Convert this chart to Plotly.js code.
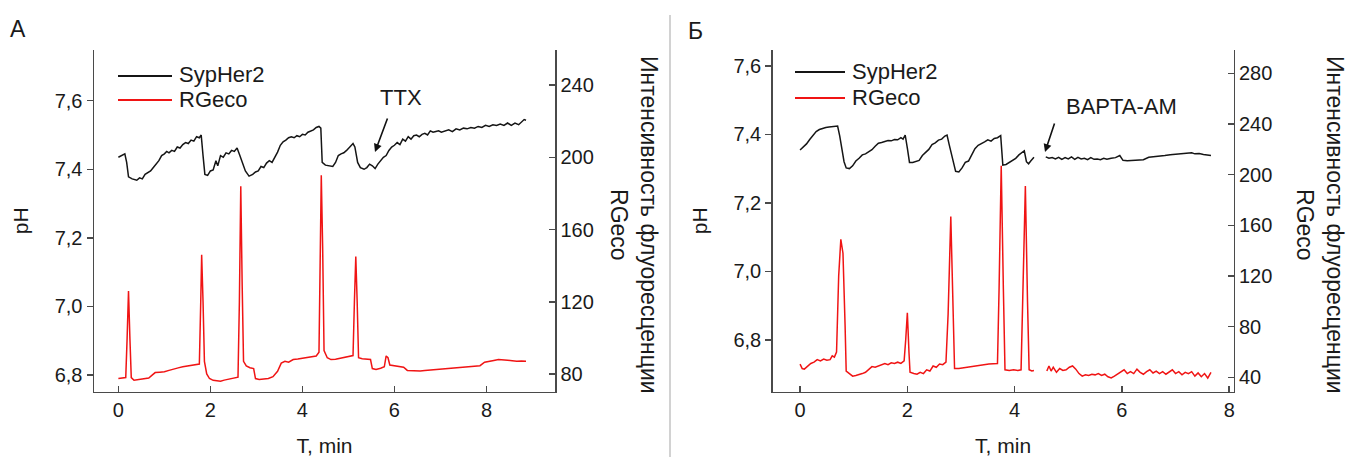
<!DOCTYPE html>
<html>
<head>
<meta charset="utf-8">
<script src="https://cdn.plot.ly/plotly-3.0.1.min.js"></script>
<style>html,body{margin:0;padding:0;background:#fff;}#chart{width:1348px;height:457px;}</style>
</head>
<body>
<div id="chart"></div>
<script>
// ---------- Panel A data ----------
const leftSypTime = [0.00,0.07,0.14,0.18,0.22,0.30,0.40,0.46,0.52,0.58,0.64,0.70,0.76,0.82,0.88,0.94,1.00,1.05,1.10,1.16,1.22,1.28,1.34,1.40,1.46,1.52,1.58,1.64,1.70,1.76,1.80,1.84,1.88,1.94,2.00,2.06,2.12,2.16,2.22,2.28,2.34,2.40,2.46,2.52,2.58,2.64,2.70,2.76,2.84,2.92,2.98,3.04,3.10,3.16,3.22,3.28,3.34,3.40,3.46,3.52,3.58,3.64,3.70,3.76,3.82,3.88,3.94,4.00,4.06,4.12,4.18,4.24,4.30,4.36,4.40,4.43,4.50,4.58,4.66,4.72,4.78,4.84,4.90,4.96,5.04,5.10,5.14,5.20,5.26,5.34,5.40,5.46,5.52,5.58,5.64,5.70,5.76,5.82,5.88,5.94,6.00,6.06,6.12,6.18,6.24,6.30,6.36,6.42,6.48,6.54,6.60,6.66,6.72,6.78,6.84,6.90,6.96,7.02,7.10,7.18,7.26,7.34,7.42,7.50,7.58,7.66,7.74,7.82,7.90,7.98,8.06,8.14,8.22,8.30,8.38,8.46,8.54,8.62,8.70,8.76,8.82,8.86];
const leftSypPH = [7.435,7.440,7.445,7.420,7.378,7.372,7.368,7.375,7.372,7.385,7.390,7.395,7.405,7.415,7.425,7.440,7.445,7.452,7.448,7.455,7.452,7.465,7.462,7.472,7.478,7.475,7.485,7.482,7.495,7.492,7.500,7.440,7.385,7.382,7.395,7.398,7.425,7.410,7.440,7.435,7.448,7.445,7.455,7.452,7.462,7.440,7.415,7.395,7.380,7.385,7.392,7.395,7.408,7.405,7.418,7.425,7.420,7.435,7.450,7.470,7.480,7.485,7.492,7.495,7.492,7.498,7.495,7.502,7.500,7.508,7.512,7.515,7.522,7.525,7.520,7.420,7.412,7.410,7.408,7.420,7.440,7.445,7.448,7.455,7.465,7.475,7.465,7.420,7.405,7.400,7.405,7.415,7.410,7.402,7.415,7.425,7.435,7.440,7.455,7.465,7.470,7.478,7.472,7.488,7.482,7.495,7.488,7.498,7.500,7.495,7.502,7.505,7.500,7.512,7.508,7.510,7.512,7.508,7.512,7.515,7.510,7.518,7.515,7.520,7.518,7.522,7.520,7.525,7.522,7.528,7.525,7.530,7.528,7.532,7.528,7.535,7.528,7.535,7.530,7.538,7.545,7.543];

const leftRgTime = [0.00,0.10,0.16,0.19,0.22,0.25,0.28,0.34,0.42,0.50,0.58,0.66,0.74,0.80,0.90,1.00,1.10,1.20,1.30,1.40,1.50,1.60,1.70,1.76,1.79,1.81,1.84,1.87,1.92,1.98,2.06,2.14,2.22,2.30,2.40,2.50,2.60,2.63,2.66,2.69,2.72,2.78,2.86,2.94,2.98,3.06,3.16,3.26,3.36,3.46,3.54,3.62,3.70,3.80,3.90,4.00,4.10,4.20,4.30,4.36,4.39,4.41,4.44,4.47,4.54,4.62,4.72,4.82,4.92,5.02,5.10,5.13,5.16,5.19,5.22,5.30,5.40,5.48,5.52,5.60,5.70,5.78,5.82,5.86,5.90,6.00,6.10,6.20,6.28,6.36,6.46,6.56,6.66,6.76,6.86,6.96,7.06,7.16,7.26,7.36,7.46,7.56,7.66,7.76,7.86,7.96,8.06,8.16,8.26,8.36,8.46,8.56,8.66,8.76,8.86];
const leftRg = [77.5,77.6,78,100,126,100,78,76.5,76.8,77,77.2,77.8,79.5,80.8,81,81.2,82,82.5,83.4,84,84.5,85,85.2,85.5,120,146,120,87,80,77.5,76.5,76.2,76,76.6,77.2,78,78.2,120,184,130,87,84.5,83.5,83,77.5,77,77.3,77.5,78.5,81.5,86,87,86.5,88,88.3,88.8,89,89.5,90,92,150,190,150,93,89,88,88.2,88.8,89.2,89.8,90.2,120,145,120,89,88.5,88.2,88,83,82.5,83.2,84,90,89,85,84.5,84,83.8,82,81.8,81.9,81.7,82,82.2,82.5,82.8,83,83.2,83.5,83.6,83.8,84,84.3,84.5,84.6,86.5,87.2,87.5,88,88,87.6,87.3,87,87.2,87];

// ---------- Panel Б data ----------
const rightSypTime = [0.00,0.06,0.12,0.18,0.24,0.30,0.36,0.42,0.48,0.54,0.60,0.66,0.70,0.74,0.78,0.82,0.86,0.92,0.98,1.04,1.10,1.16,1.22,1.28,1.34,1.40,1.46,1.52,1.58,1.64,1.70,1.76,1.82,1.88,1.92,1.96,2.00,2.04,2.10,2.16,2.22,2.28,2.34,2.40,2.46,2.52,2.58,2.64,2.70,2.74,2.78,2.84,2.90,2.96,3.02,3.08,3.14,3.20,3.26,3.32,3.38,3.44,3.50,3.56,3.62,3.68,3.74,3.78,3.84,3.90,3.96,4.02,4.08,4.14,4.18,4.22,4.26,4.30,4.36,4.47,4.58,4.64,4.70,4.76,4.82,4.88,4.94,5.00,5.06,5.12,5.18,5.24,5.30,5.36,5.42,5.48,5.54,5.60,5.66,5.72,5.80,5.88,5.96,6.02,6.10,6.20,6.30,6.40,6.50,6.60,6.70,6.80,6.90,7.00,7.10,7.20,7.30,7.36,7.44,7.52,7.60,7.66];
const rightSypPH = [7.354,7.362,7.372,7.385,7.398,7.408,7.414,7.418,7.420,7.421,7.422,7.422,7.424,7.395,7.360,7.320,7.302,7.300,7.308,7.322,7.330,7.340,7.343,7.348,7.355,7.365,7.374,7.376,7.380,7.382,7.381,7.385,7.384,7.390,7.386,7.398,7.360,7.318,7.318,7.322,7.324,7.338,7.346,7.356,7.370,7.375,7.383,7.386,7.395,7.398,7.370,7.330,7.292,7.290,7.302,7.318,7.322,7.340,7.358,7.368,7.372,7.378,7.384,7.380,7.388,7.390,7.396,7.310,7.312,7.318,7.324,7.330,7.340,7.346,7.352,7.320,7.314,7.322,7.333,null,7.334,7.330,7.332,7.328,7.333,7.327,7.332,7.328,7.334,7.327,7.333,7.328,7.330,7.326,7.332,7.327,7.328,7.326,7.330,7.327,7.330,7.332,7.338,7.324,7.323,7.324,7.326,7.326,7.333,7.334,7.336,7.338,7.340,7.341,7.342,7.343,7.346,7.343,7.344,7.341,7.340,7.338];

const rightRgTime = [0.00,0.04,0.08,0.14,0.20,0.26,0.32,0.38,0.44,0.50,0.56,0.60,0.64,0.68,0.72,0.76,0.80,0.84,0.86,0.92,0.98,1.04,1.10,1.16,1.22,1.28,1.34,1.40,1.46,1.52,1.58,1.64,1.70,1.76,1.82,1.88,1.94,1.97,2.00,2.03,2.05,2.12,2.18,2.24,2.30,2.36,2.42,2.48,2.54,2.60,2.66,2.72,2.76,2.81,2.85,2.88,2.96,3.04,3.12,3.20,3.28,3.36,3.44,3.52,3.60,3.68,3.71,3.75,3.79,3.82,3.90,3.98,4.06,4.12,4.15,4.20,4.24,4.27,4.32,4.36,4.47,4.60,4.64,4.68,4.72,4.78,4.84,4.90,4.96,5.02,5.08,5.14,5.20,5.26,5.32,5.38,5.44,5.50,5.56,5.62,5.68,5.74,5.80,5.86,5.92,5.98,6.04,6.10,6.16,6.22,6.28,6.34,6.40,6.46,6.52,6.58,6.64,6.70,6.76,6.82,6.88,6.94,7.00,7.06,7.12,7.18,7.24,7.30,7.36,7.42,7.48,7.54,7.60,7.66];
const rightRg = [50.5,47,46.5,49,51,52,54,53,54.5,53.5,54,57,56,60,120,149,138,80,45,43,41,41.5,42,43,44,46,48.5,48,49,50.5,51,50,51.5,51,52,51,53,70,91,60,44,43,42.5,44,43,46,45,49,48,50.5,50,52,90,167,100,47,47,47.5,48,49,49.5,50,50,50.5,50.8,51,110,207,110,46,45.5,46,45.5,46,100,191,100,46,45,45.5,null,45,49,45,48,44,47,45.5,46,48,49,46.5,43,41,42,41.5,42.5,42,43,41.5,42.5,40.5,39.5,41,42.5,44,46,43,44.5,43,46.5,44,42.5,44.5,46,43.5,45,43,44.5,42.5,44,46,43,44.5,42,44,43,44.5,41,43.5,40.5,43,39.5,44];

// ---------- Labels ----------
const seriesNames = ['SypHer2', 'RGeco'];
const panelLabels = ['A', 'Б'];
const treatments = ['TTX', 'BAPTA-AM'];
const xTitle = 'T, min';
const yLeftTitle = 'pH';
const yRightTitle = 'Интенсивность флуоресценции<br>RGeco';
const xTicksA = [0, 2, 4, 6, 8];
const xTicksB = [0, 2, 4, 6, 8];
const phTicks = [6.8, 7.0, 7.2, 7.4, 7.6];
const rgTicksA = [80, 120, 160, 200, 240];
const rgTicksB = [40, 80, 120, 160, 200, 240, 280];

// ---------- Layout helpers ----------
const W = 1348, H = 457;
const px = x => x / W;
const py = y => 1 - y / H;
const FONT = 'Liberation Sans, Arial, sans-serif';
const TXT = '#1a1a1a';
const AX = '#4a4a4a';
const BLACK = '#151515';
const RED = '#f01414';
const plotTop = 50, plotBottom = 391.7;
const yDom = [py(plotBottom), py(plotTop)];
const tickFont = {family: FONT, size: 20, color: TXT};

function axisBase(extra) {
  return Object.assign({
    showline: true, linecolor: AX, linewidth: 1.5,
    showgrid: false, zeroline: false,
    tickcolor: AX, tickwidth: 1.5, ticklen: 6,
    tickfont: tickFont, fixedrange: true
  }, extra);
}

const traces = [
  {x: leftSypTime, y: leftSypPH, xaxis: 'x', yaxis: 'y', type: 'scatter', mode: 'lines',
   line: {color: BLACK, width: 1.5}, name: seriesNames[0], showlegend: false},
  {x: leftRgTime, y: leftRg, xaxis: 'x', yaxis: 'y2', type: 'scatter', mode: 'lines',
   line: {color: RED, width: 1.5}, name: seriesNames[1], showlegend: false},
  {x: rightSypTime, y: rightSypPH, xaxis: 'x2', yaxis: 'y3', type: 'scatter', mode: 'lines',
   line: {color: BLACK, width: 1.5}, name: seriesNames[0], showlegend: false, connectgaps: false},
  {x: rightRgTime, y: rightRg, xaxis: 'x2', yaxis: 'y4', type: 'scatter', mode: 'lines',
   line: {color: RED, width: 1.5}, name: seriesNames[1], showlegend: false, connectgaps: false}
];

const titleFont = {family: FONT, size: 21, color: TXT};

function label(text, x, y, size, extra) {
  return Object.assign({text: text, xref: 'paper', yref: 'paper', x: px(x), y: py(y),
    xanchor: 'center', yanchor: 'middle', showarrow: false,
    font: {family: FONT, size: size, color: TXT}}, extra || {});
}

const layout = {
  width: W, height: H,
  margin: {l: 0, r: 0, t: 0, b: 0},
  paper_bgcolor: '#fff', plot_bgcolor: 'rgba(0,0,0,0)',
  separators: ', ',
  showlegend: false,
  font: {family: FONT, color: TXT},
  xaxis: axisBase({domain: [px(94), px(555)], range: [-0.53, 9.49], anchor: 'y',
    tickvals: xTicksA, ticks: 'inside',
    title: {text: xTitle, font: titleFont, standoff: 20}}),
  yaxis: axisBase({domain: yDom, range: [6.751, 7.748], anchor: 'x',
    tickvals: phTicks, tickformat: '.1f', ticks: 'outside',
    title: {text: yLeftTitle, font: titleFont, standoff: 20}}),
  yaxis2: axisBase({overlaying: 'y', side: 'right', anchor: 'x', range: [70.2, 259.4],
    tickvals: rgTicksA, ticks: 'inside'}),
  xaxis2: axisBase({domain: [px(772.7), px(1233.5)], range: [-0.51, 8.08], anchor: 'y3',
    tickvals: xTicksB, ticks: 'inside',
    title: {text: xTitle, font: titleFont, standoff: 20}}),
  yaxis3: axisBase({domain: yDom, range: [6.649, 7.646], anchor: 'x2',
    tickvals: phTicks, tickformat: '.1f', ticks: 'outside',
    title: {text: yLeftTitle, font: titleFont, standoff: 20}}),
  yaxis4: axisBase({overlaying: 'y3', side: 'right', anchor: 'x2', range: [28.7, 298.4],
    tickvals: rgTicksB, ticks: 'inside'}),
  shapes: [
    // panel separator
    {type: 'line', xref: 'paper', yref: 'paper', x0: px(670), x1: px(670), y0: py(15), y1: 0,
     line: {color: '#d2d2d2', width: 2}},
    // legend samples panel A
    {type: 'line', xref: 'paper', yref: 'paper', x0: px(118), x1: px(172), y0: py(76), y1: py(76),
     line: {color: BLACK, width: 2}},
    {type: 'line', xref: 'paper', yref: 'paper', x0: px(118), x1: px(172), y0: py(100), y1: py(100),
     line: {color: RED, width: 2}},
    // legend samples panel Б
    {type: 'line', xref: 'paper', yref: 'paper', x0: px(795), x1: px(845), y0: py(72), y1: py(72),
     line: {color: BLACK, width: 2}},
    {type: 'line', xref: 'paper', yref: 'paper', x0: px(795), x1: px(845), y0: py(98), y1: py(98),
     line: {color: RED, width: 2}}
  ],
  annotations: [
    label(panelLabels[0], 18, 29, 23),
    label(panelLabels[1], 696, 31, 23),
    label(seriesNames[0], 177, 75, 22, {xanchor: 'left'}),
    label(seriesNames[1], 177, 99, 22, {xanchor: 'left'}),
    label(seriesNames[0], 850, 71, 22, {xanchor: 'left'}),
    label(seriesNames[1], 850, 97, 22, {xanchor: 'left'}),
    label(treatments[0], 401, 98, 22),
    label(treatments[1], 1121, 106, 22),
    {text: '', xref: 'paper', yref: 'paper', x: px(375), y: py(152), ax: 13, ay: -35,
     showarrow: true, arrowhead: 2, arrowsize: 1, arrowwidth: 1.6, arrowcolor: '#111'},
    {text: '', xref: 'paper', yref: 'paper', x: px(1045), y: py(152), ax: 10, ay: -30,
     showarrow: true, arrowhead: 2, arrowsize: 1, arrowwidth: 1.6, arrowcolor: '#111'},
    label(yRightTitle, 634, 225, 23, {textangle: 90}),
    label(yRightTitle, 1320, 225, 23, {textangle: 90})
  ]
};

Plotly.newPlot('chart', traces, layout, {displayModeBar: false, staticPlot: true});
</script>
</body>
</html>
